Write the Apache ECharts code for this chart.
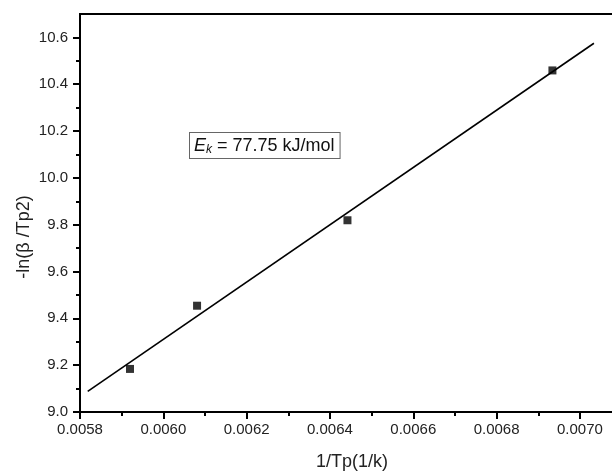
<!DOCTYPE html>
<html>
<head>
<meta charset="utf-8">
<script src="https://cdn.jsdelivr.net/npm/echarts@6/dist/echarts.min.js"></script>
<style>html,body{margin:0;padding:0;background:#fff}#c{width:612px;height:476px}</style>
</head>
<body>
<div id="c"></div>
<script>
// Data
var pointX = [0.00592, 0.006081, 0.006442, 0.006934];
var pointY = [9.184, 9.454, 9.819, 10.459];
var fitX = [0.0058185, 0.0070336];
var fitY = [9.088, 10.575];
var xMajorTicks = [0.0058, 0.0060, 0.0062, 0.0064, 0.0066, 0.0068, 0.0070];
var xMinorTicks = [0.0059, 0.0061, 0.0063, 0.0065, 0.0067, 0.0069];
var yMajorTicks = [9.0, 9.2, 9.4, 9.6, 9.8, 10.0, 10.2, 10.4, 10.6];
var yMinorTicks = [9.1, 9.3, 9.5, 9.7, 9.9, 10.1, 10.3, 10.5];
var xName = '1/Tp(1/k)';
var yName = '-ln(β /Tp2)';

var FONT = 'Liberation Sans, Arial, sans-serif';
var X_MIN = 0.0058, X_MAX = 0.007077, Y_MIN = 9.0, Y_MAX = 10.7;
var chart = echarts.init(document.getElementById('c'));
var points = pointX.map(function (x, i) { return [x, pointY[i]]; });
var fit = fitX.map(function (x, i) { return [x, fitY[i]]; });
var axLine = { show: true, onZero: false, lineStyle: { color: '#000', width: 2 } };

function xAxisDef(ticks, len, showLabels) {
  return {
    type: 'value', min: X_MIN, max: X_MAX, position: 'bottom',
    axisLine: axLine, splitLine: { show: false },
    axisTick: { show: true, inside: false, length: len, customValues: ticks, lineStyle: { color: '#000', width: 2 } },
    axisLabel: showLabels ? { show: true, customValues: ticks, margin: 10, fontFamily: FONT, fontSize: 15, color: '#222',
      formatter: function (v) { return v.toFixed(4); } } : { show: false },
    name: showLabels ? xName : '', nameLocation: 'middle', nameGap: 41, nameMoveOverlap: false,
    nameTextStyle: { fontFamily: FONT, fontSize: 18, color: '#222', padding: [0, 0, 0, 12] }
  };
}
function yAxisDef(ticks, len, showLabels) {
  return {
    type: 'value', min: Y_MIN, max: Y_MAX, position: 'left',
    axisLine: axLine, splitLine: { show: false },
    axisTick: { show: true, inside: false, length: len, customValues: ticks, lineStyle: { color: '#000', width: 2 } },
    axisLabel: showLabels ? { show: true, customValues: ticks, margin: 12, fontFamily: FONT, fontSize: 15, color: '#222',
      formatter: function (v) { return v.toFixed(1); } } : { show: false },
    name: showLabels ? yName : '', nameLocation: 'middle', nameGap: 47, nameRotate: 90, nameMoveOverlap: false,
    nameTextStyle: { fontFamily: FONT, fontSize: 18, color: '#222', padding: [0, 48, 0, 0] }
  };
}
var topBorder = {
  type: 'value', min: X_MIN, max: X_MAX, position: 'top',
  axisLine: axLine, axisTick: { show: false }, axisLabel: { show: false }, splitLine: { show: false }
};

chart.setOption({
  animation: false,
  backgroundColor: '#fff',
  grid: { left: 80, top: 14, right: 0, bottom: 58, show: false },
  xAxis: [xAxisDef(xMajorTicks, 7, true), xAxisDef(xMinorTicks, 4, false), topBorder],
  yAxis: [yAxisDef(yMajorTicks, 7, true), yAxisDef(yMinorTicks, 4, false)],
  series: [
    { type: 'line', data: fit, symbol: 'none', lineStyle: { color: '#000', width: 1.6 }, silent: true },
    { type: 'scatter', data: points, symbol: 'rect', symbolSize: 8, itemStyle: { color: '#000' } }
  ],
  graphic: [{
    type: 'text', left: 189, top: 132,
    style: {
      text: '{e|E}{k|k}{n| = 77.75 kJ/mol}',
      rich: {
        e: { fontFamily: FONT, fontSize: 18, fontStyle: 'italic', fill: '#111', lineHeight: 20 },
        k: { fontFamily: FONT, fontSize: 12, fontStyle: 'italic', fill: '#111', lineHeight: 20, verticalAlign: 'bottom', padding: [6, 0, 0, 0] },
        n: { fontFamily: FONT, fontSize: 18, fill: '#111', lineHeight: 20 }
      },
      borderColor: '#666', borderWidth: 1, padding: [3, 5, 2, 4], backgroundColor: '#fff'
    }
  }]
});
</script>
</body>
</html>
